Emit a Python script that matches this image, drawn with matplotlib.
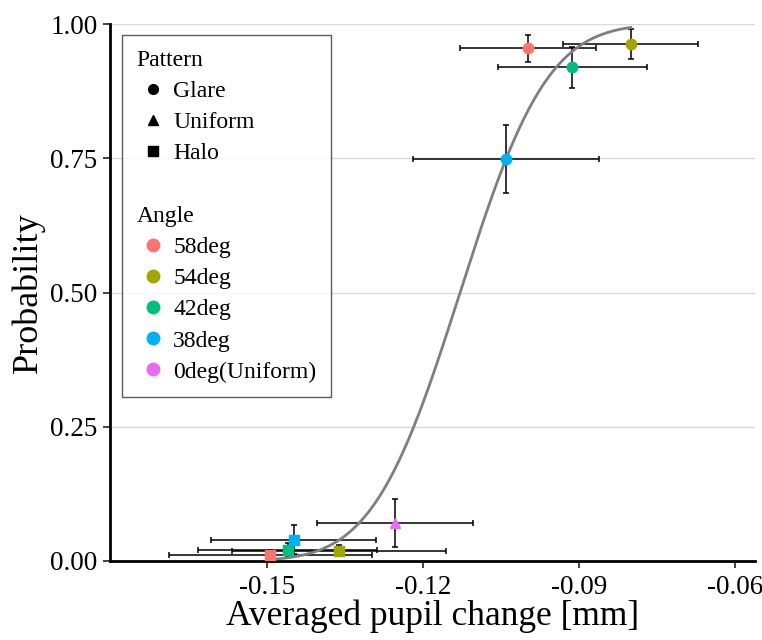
import math
import matplotlib
matplotlib.use('Agg')
import matplotlib.pyplot as plt
from matplotlib.lines import Line2D
import numpy as np

# data
pattern = ['Glare', 'Glare', 'Glare', 'Glare',
           'Halo', 'Halo', 'Halo', 'Halo', 'Uniform']
angle = ['58deg', '54deg', '42deg', '38deg',
         '58deg', '54deg', '42deg', '38deg', '0deg(Uniform)']
pupil = [-0.0999, -0.0801, -0.0913, -0.1040,
         -0.1494, -0.1362, -0.1460, -0.1449, -0.1255]
prob = [0.955, 0.962, 0.919, 0.748,
        0.011, 0.019, 0.020, 0.040, 0.071]
pupil_err = [0.0131, 0.0130, 0.0144, 0.0179,
             0.0195, 0.0206, 0.0172, 0.0159, 0.0150]
prob_err = [0.025, 0.028, 0.038, 0.063,
            0.010, 0.010, 0.013, 0.027, 0.044]

angle_levels = ['58deg', '54deg', '42deg', '38deg', '0deg(Uniform)']
angle_colors = ['#F8766D', '#A3A500', '#00BF7D', '#00B0F6', '#E76BF3']
pattern_levels = ['Glare', 'Uniform', 'Halo']
pattern_markers = {'Glare': 'o', 'Uniform': '^', 'Halo': 's'}

# psychometric (probit) fit
fit_mu = -0.1129
fit_sigma = 0.0132

plt.rcParams['font.family'] = ['Liberation Serif', 'DejaVu Serif']
plt.rcParams['axes.unicode_minus'] = False

fig = plt.figure(figsize=(7.62, 6.4), dpi=100)
ax = fig.add_axes([110 / 762, 1 - 561 / 640, 645 / 762, 537 / 640])

# fitted curve over the data range
xf = np.linspace(min(pupil), max(pupil), 300)
yf = np.array([0.5 * (1 + math.erf((v - fit_mu) / (fit_sigma * math.sqrt(2)))) for v in xf])
ax.plot(xf, yf, color='#7f7f7f', lw=2.0, zorder=3)

for i in range(len(pupil)):
    c = angle_colors[angle_levels.index(angle[i])]
    ax.errorbar(pupil[i], prob[i], xerr=pupil_err[i], yerr=prob_err[i],
                fmt='none', ecolor='black', elinewidth=1.1, capsize=2.2,
                capthick=1.1, zorder=2)
    ax.plot(pupil[i], prob[i], marker=pattern_markers[pattern[i]],
            color=c, markersize=7.5, ls='none', zorder=4, clip_on=False)

ax.set_xlim(-0.1802, -0.0562)
ax.set_ylim(0, 1)
ax.set_xticks([-0.15, -0.12, -0.09, -0.06])
ax.set_xticklabels(['-0.15', '-0.12', '-0.09', '-0.06'])
ax.set_yticks([0, 0.25, 0.5, 0.75, 1.0])
ax.set_yticklabels(['0.00', '0.25', '0.50', '0.75', '1.00'])
ax.tick_params(labelsize=19.5, width=1.3, length=5, color='#333333',
               labelcolor='black', pad=4)
ax.tick_params(axis='x', pad=5)
ax.grid(axis='y', color='#d9d9d9', lw=1.0)
ax.set_axisbelow(True)
for s in ['top', 'right']:
    ax.spines[s].set_visible(False)
for s in ['left', 'bottom']:
    ax.spines[s].set_linewidth(2.0)
ax.set_xlabel('Averaged pupil change [mm]', fontsize=25.5, labelpad=0)
ax.set_ylabel('Probability', fontsize=26, labelpad=4)

handles = [Line2D([], [], marker=pattern_markers[p], color='black', ls='none', markersize=7)
           for p in pattern_levels]
labels = list(pattern_levels)
handles += [Line2D([], [], ls='none'), Line2D([], [], ls='none')]
labels += [' ', ' ']
handles += [Line2D([], [], marker='o', color=c, ls='none', markersize=9)
            for c in angle_colors]
labels += angle_levels
leg = ax.legend(handles, labels, title='Pattern', loc='upper left',
                bbox_to_anchor=(12 / 645, 1 - 11 / 537), borderaxespad=0,
                fontsize=17, title_fontsize=17, frameon=True, fancybox=False,
                edgecolor='#333333', labelspacing=0.41, handletextpad=0.2,
                handlelength=1.35, borderpad=0.62)
leg._legend_box.align = 'left'
leg.get_frame().set_linewidth(1.0)

fig.canvas.draw()
tb = leg.get_title().get_window_extent()
rb = leg.get_texts()[4].get_window_extent()
inv = fig.transFigure.inverted()
x0, _ = inv.transform((tb.x0, 0))
_, yc = inv.transform((0, (rb.y0 + rb.y1) / 2))
fig.text(x0, yc, 'Angle', fontsize=17, va='center', ha='left')

fig.savefig('out.png', dpi=100)
